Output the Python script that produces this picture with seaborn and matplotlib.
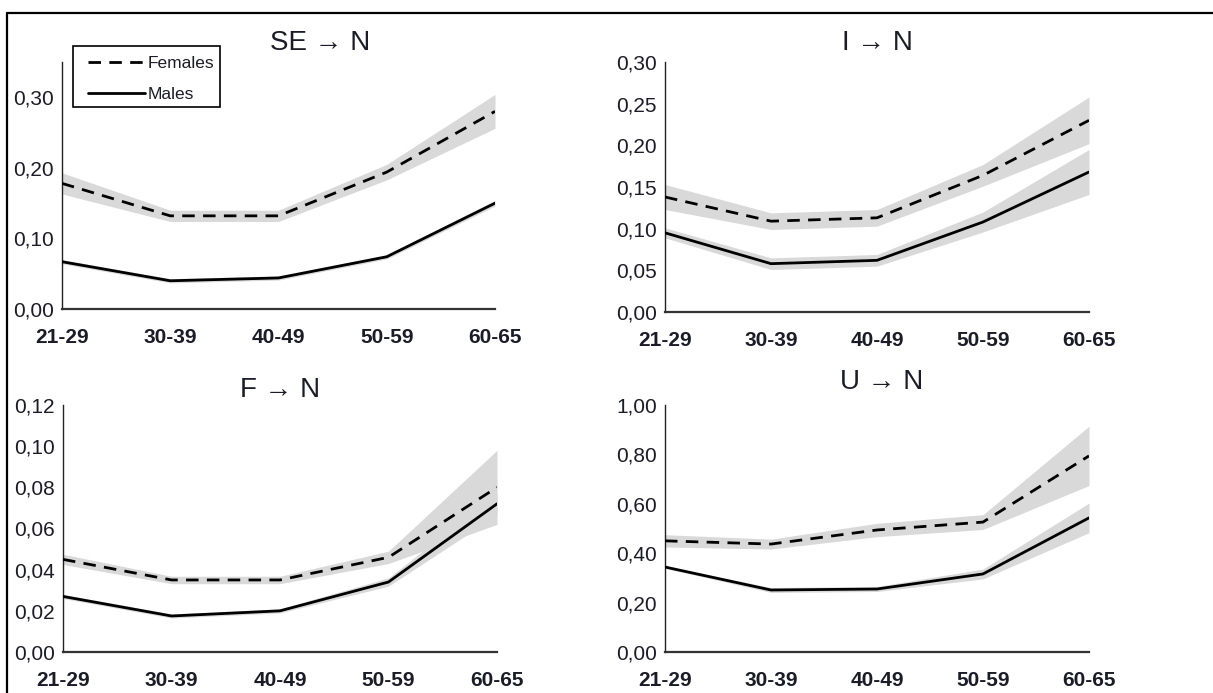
import numpy as np
import pandas as pd
import matplotlib
matplotlib.use('Agg')
import matplotlib.pyplot as plt
from matplotlib.lines import Line2D
from matplotlib.patches import Rectangle
from matplotlib.ticker import FuncFormatter
import seaborn as sns

# age groups on the x axis
ages = ['21-29', '30-39', '40-49', '50-59', '60-65']

# SE -> N
se_females = [0.178, 0.132, 0.132, 0.194, 0.280]
se_females_ci = [0.015, 0.008, 0.008, 0.011, 0.024]
se_males = [0.067, 0.040, 0.044, 0.074, 0.150]
se_males_ci = [0.003, 0.003, 0.003, 0.003, 0.004]

# I -> N
i_females = [0.138, 0.109, 0.113, 0.164, 0.230]
i_females_ci = [0.015, 0.010, 0.010, 0.013, 0.028]
i_males = [0.095, 0.058, 0.062, 0.108, 0.168]
i_males_ci = [0.006, 0.007, 0.007, 0.012, 0.027]

# F -> N
f_females = [0.045, 0.035, 0.035, 0.046, 0.080]
f_females_ci = [0.0025, 0.0018, 0.0018, 0.003, 0.018]
f_males = [0.027, 0.0175, 0.020, 0.034, 0.072]
f_males_ci = [0.001, 0.001, 0.001, 0.002, 0.0055]

# U -> N
u_females = [0.450, 0.437, 0.494, 0.526, 0.794]
u_females_ci = [0.025, 0.020, 0.027, 0.030, 0.120]
u_males = [0.344, 0.251, 0.255, 0.316, 0.543]
u_males_ci = [0.005, 0.010, 0.010, 0.020, 0.060]

titles = ['SE \u2192 N', 'I \u2192 N', 'F \u2192 N', 'U \u2192 N']
ylims = [0.35, 0.30, 0.12, 1.00]
ytick_steps = [0.10, 0.05, 0.02, 0.20]
ytick_tops = [0.30, 0.30, 0.12, 1.00]

sns.set_theme(style='white')
plt.rcParams['font.family'] = ['Liberation Sans Narrow', 'Liberation Sans', 'DejaVu Sans']
text_color = '#1c1c28'
band_color = '#d9d9d9'
dash_style = (4.5, 3)

fig = plt.figure(figsize=(12.13, 6.93), dpi=100)
W, H = 1213, 693

# axes boxes in pixels: left, right, top, bottom
boxes = [(62, 495, 62, 309), (665, 1089, 62, 312),
         (63, 497, 405, 652), (665, 1089, 405, 652)]
title_pos = [(0.596, 1.077), (0.50, 1.077), (0.50, 1.06), (0.51, 1.093)]

panels = [(se_females, se_females_ci, se_males, se_males_ci),
          (i_females, i_females_ci, i_males, i_males_ci),
          (f_females, f_females_ci, f_males, f_males_ci),
          (u_females, u_females_ci, u_males, u_males_ci)]

x = np.arange(len(ages))

for k, (fem, fem_ci, mal, mal_ci) in enumerate(panels):
    l, r, t, b = boxes[k]
    ax = fig.add_axes([l / W, (H - b) / H, (r - l) / W, (b - t) / H])
    ax.set_facecolor('none')

    for vals, ci in [(fem, fem_ci), (mal, mal_ci)]:
        v = np.array(vals)
        c = np.array(ci)
        ax.fill_between(x, v - c, v + c, color=band_color, linewidth=0, zorder=1)

    df = pd.DataFrame({
        'pos': np.concatenate([x, x]),
        'value': fem + mal,
        'sex': ['Females'] * len(ages) + ['Males'] * len(ages),
    })
    sns.lineplot(data=df, x='pos', y='value', hue='sex', style='sex',
                 palette={'Females': 'black', 'Males': 'black'},
                 dashes={'Females': dash_style, 'Males': ''},
                 linewidth=2.0, legend=False, ax=ax, zorder=3)

    ax.set_xlim(0, 4)
    ax.set_ylim(0, ylims[k])
    ax.set_xticks(x)
    ax.set_xticklabels(ages)
    ax.set_yticks(np.arange(0, ytick_tops[k] + 1e-9, ytick_steps[k]))
    ax.yaxis.set_major_formatter(FuncFormatter(lambda v, p: f'{v:.2f}'.replace('.', ',')))
    ax.set_xlabel('')
    ax.set_ylabel('')

    ax.tick_params(axis='x', length=0, pad=14, labelsize=15, labelcolor=text_color)
    ax.tick_params(axis='y', length=0, pad=6, labelsize=15, labelcolor=text_color)
    for lab in ax.get_xticklabels():
        lab.set_fontweight('bold')

    for side in ['top', 'right']:
        ax.spines[side].set_visible(False)
    ax.spines['left'].set_color('#222222')
    ax.spines['left'].set_linewidth(1.0)
    ax.spines['bottom'].set_color('#333333')
    ax.spines['bottom'].set_linewidth(1.6)

    ax.text(title_pos[k][0], title_pos[k][1], titles[k], transform=ax.transAxes,
            ha='center', va='center', fontsize=20, color=text_color,
            family=['Liberation Sans', 'DejaVu Sans'], clip_on=False)

    if k == 0:
        handles = [Line2D([], [], color='black', linewidth=2.0, dashes=dash_style),
                   Line2D([], [], color='black', linewidth=2.0)]
        leg = ax.legend(handles, ['Females', 'Males'], loc='upper left',
                        bbox_to_anchor=(0.060, 1.026), frameon=False,
                        fontsize=12.5, handlelength=3.3, handletextpad=0.15,
                        borderpad=0, labelspacing=0.95, borderaxespad=0)
        for txt in leg.get_texts():
            txt.set_color(text_color)
        # legend box drawn as in the source
        ax.add_patch(Rectangle((0.0254, 0.8178), 0.3395, 0.247, transform=ax.transAxes,
                               fill=False, edgecolor='black', linewidth=1.2,
                               clip_on=False, zorder=5))

# frame lines at the top and left of the picture
fig.add_artist(Line2D([7 / W, 1], [1 - 13 / H, 1 - 13 / H], color='black', linewidth=1.6))
fig.add_artist(Line2D([7 / W, 7 / W], [0, 1 - 13 / H], color='black', linewidth=1.6))

fig.savefig('out.png', dpi=100)
